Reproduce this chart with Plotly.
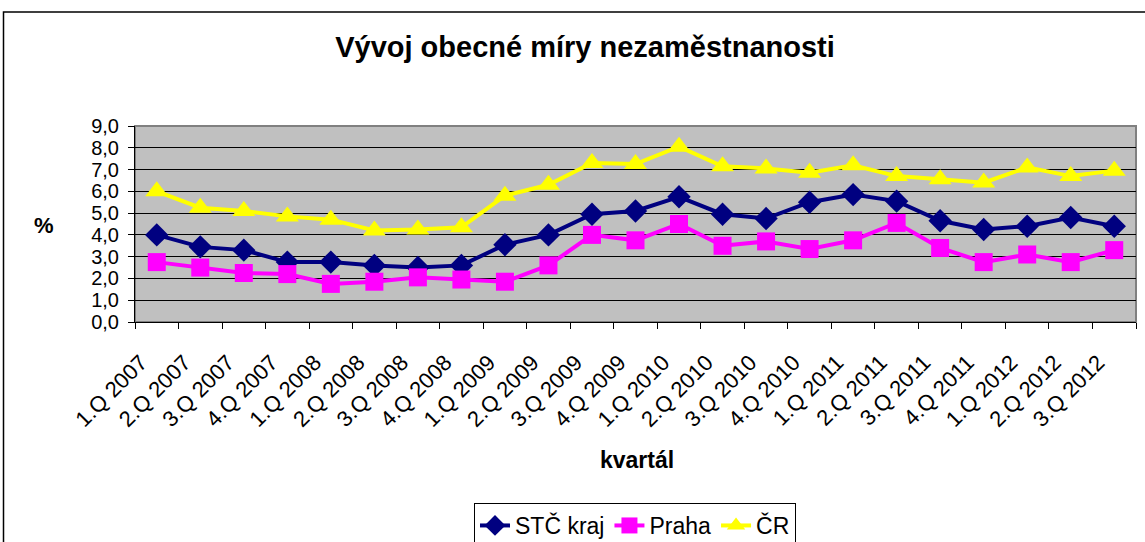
import plotly.graph_objects as go

categories = ["1.Q 2007", "2.Q 2007", "3.Q 2007", "4.Q 2007",
              "1.Q 2008", "2.Q 2008", "3.Q 2008", "4.Q 2008",
              "1.Q 2009", "2.Q 2009", "3.Q 2009", "4.Q 2009",
              "1.Q 2010", "2.Q 2010", "3.Q 2010", "4.Q 2010",
              "1.Q 2011", "2.Q 2011", "3.Q 2011", "4.Q 2011",
              "1.Q 2012", "2.Q 2012", "3.Q 2012"]

stc_kraj = [4.0, 3.45, 3.3, 2.75, 2.75, 2.6, 2.5, 2.6, 3.55, 4.0, 4.95, 5.1,
            5.75, 4.95, 4.75, 5.5, 5.85, 5.55, 4.65, 4.25, 4.4, 4.8, 4.4]
praha = [2.75, 2.5, 2.25, 2.2, 1.75, 1.85, 2.05, 1.95, 1.85, 2.6, 4.0, 3.75,
         4.5, 3.5, 3.7, 3.35, 3.75, 4.55, 3.4, 2.75, 3.1, 2.75, 3.3]
cr = [6.0, 5.25, 5.1, 4.85, 4.7, 4.2, 4.25, 4.35, 5.8, 6.3, 7.3, 7.25,
      8.05, 7.15, 7.05, 6.85, 7.2, 6.7, 6.55, 6.4, 7.1, 6.7, 6.95]

series_names = ["STČ kraj", "Praha", "ČR"]
y_ticks = [0, 1, 2, 3, 4, 5, 6, 7, 8, 9]

FONT = "Liberation Sans, Arial, sans-serif"
W, H = 1145, 542
L, R, T, B = 135, 9, 126, 220
PW, PH = W - L - R, H - T - B


def px(x):
    return (x - L) / PW


def py(y):
    return (H - B - y) / PH


fig = go.Figure()
fig.add_trace(go.Scatter(x=categories, y=stc_kraj, name=series_names[0], mode="lines+markers",
                         line=dict(color="#000080", width=4),
                         marker=dict(symbol="diamond", size=18, color="#000080")))
fig.add_trace(go.Scatter(x=categories, y=praha, name=series_names[1], mode="lines+markers",
                         line=dict(color="#FF00FF", width=4),
                         marker=dict(symbol="square", size=18, color="#FF00FF")))
fig.add_trace(go.Scatter(x=categories, y=cr, name=series_names[2], mode="lines+markers",
                         line=dict(color="#FFFF00", width=4),
                         marker=dict(symbol="triangle-up", size=20, color="#FFFF00")))

fig.update_layout(
    width=W, height=H,
    margin=dict(l=L, r=R, t=T, b=B, autoexpand=False),
    paper_bgcolor="white",
    plot_bgcolor="#C0C0C0",
    separators=",.",
    font=dict(family=FONT, color="black", size=20),
    title=dict(text="<b>Vývoj obecné míry nezaměstnanosti</b>", x=585 / W, xanchor="center",
               y=1 - 47 / H, yanchor="middle", font=dict(size=29, family=FONT)),
    showlegend=True,
    legend=dict(orientation="h", x=px(635), xanchor="center", y=py(503), yanchor="top",
                bgcolor="white", bordercolor="black", borderwidth=1,
                font=dict(size=23, family=FONT)),
    xaxis=dict(type="category", tickmode="array", tickvals=categories, ticktext=categories,
               tickangle=-45, tickson="boundaries", ticks="outside", ticklen=6,
               tickcolor="black", showline=True, linecolor="black", linewidth=1,
               showgrid=False, tickfont=dict(size=22), automargin=False,
               ticklabelstandoff=18, ticklabelshift=-16,
               range=[-0.5, len(categories) - 0.5]),
    yaxis=dict(range=[0, 9], tickmode="array", tickvals=y_ticks, tickformat=".1f",
               ticks="outside", ticklen=6, tickcolor="black",
               showline=True, linecolor="black", linewidth=1,
               showgrid=True, gridcolor="black", gridwidth=1, zeroline=False,
               tickfont=dict(size=20), automargin=False, ticklabelstandoff=5),
    shapes=[
        dict(type="rect", xref="paper", yref="paper", x0=0, x1=1, y0=0, y1=1,
             line=dict(color="#808080", width=2), fillcolor="rgba(0,0,0,0)", layer="below"),
        dict(type="rect", xref="paper", yref="paper",
             x0=px(3.5), x1=px(1160), y0=py(600), y1=py(12),
             line=dict(color="black", width=1.5), fillcolor="rgba(0,0,0,0)"),
    ],
    annotations=[
        dict(text="<b>%</b>", xref="paper", yref="paper", x=px(44), y=py(225),
             xanchor="center", yanchor="middle", showarrow=False, font=dict(size=22, family=FONT)),
        dict(text="<b>kvartál</b>", xref="paper", yref="paper", x=px(637), y=py(460),
             xanchor="center", yanchor="middle", showarrow=False, font=dict(size=23, family=FONT)),
    ],
)

fig.write_html("out.html", config={"displayModeBar": False},
               post_script="document.body.style.margin='0px';")
